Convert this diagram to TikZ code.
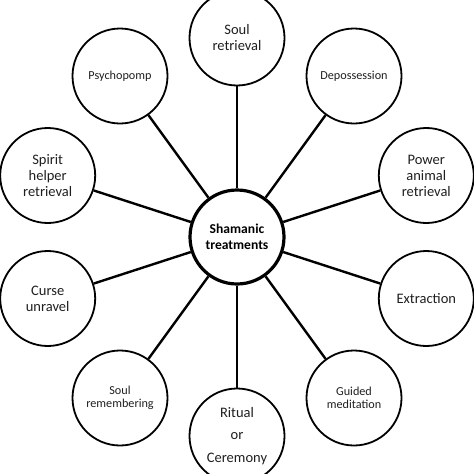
\documentclass[tikz,border=0pt]{standalone}
\usepackage{fontspec}
\setmainfont{Carlito}
\begin{document}
\begin{tikzpicture}[x=1pt,y=-1pt,
  outer/.style={circle,draw=black,line width=1.8pt,minimum size=95pt,inner sep=0pt,align=center,text=black!88,font=\fontsize{14.5}{16}\selectfont},
  small/.style={font=\fontsize{12.2}{13.5}\selectfont},
  hub/.style={circle,draw=black,line width=3.2pt,minimum size=94pt,inner sep=0pt,align=center,text=black,font=\bfseries\fontsize{13.6}{16}\selectfont},
  link/.style={line width=2.4pt}]
\useasboundingbox (0,0) rectangle (474,474);
\clip (0,0) rectangle (474,474);
\node[hub] (c) at (237,237) {Shamanic\\treatments};
\node[outer] (n1) at (237,38) {Soul\\retrieval};
\node[outer,small] (n2) at (354,76) {Depossession};
\node[outer] (n3) at (426.3,175.5) {Power\\animal\\retrieval};
\node[outer] (n4) at (426.3,298.5) {Extraction};
\node[outer,small] (n5) at (354,398) {Guided\\meditation};
\node[outer,font=\fontsize{14.5}{22.5}\selectfont] (n6) at (237,436) {Ritual\\or\\Ceremony};
\node[outer,small] (n7) at (120,398) {Soul\\remembering};
\node[outer] (n8) at (47.7,298.5) {Curse\\unravel};
\node[outer] (n9) at (47.7,175.5) {Spirit\\helper\\retrieval};
\node[outer,small] (n10) at (120,76) {Psychopomp};
\foreach \n in {n1,n2,n3,n4,n5,n6,n7,n8,n9,n10}
  \draw[link] (c) -- (\n);
\end{tikzpicture}
\end{document}
